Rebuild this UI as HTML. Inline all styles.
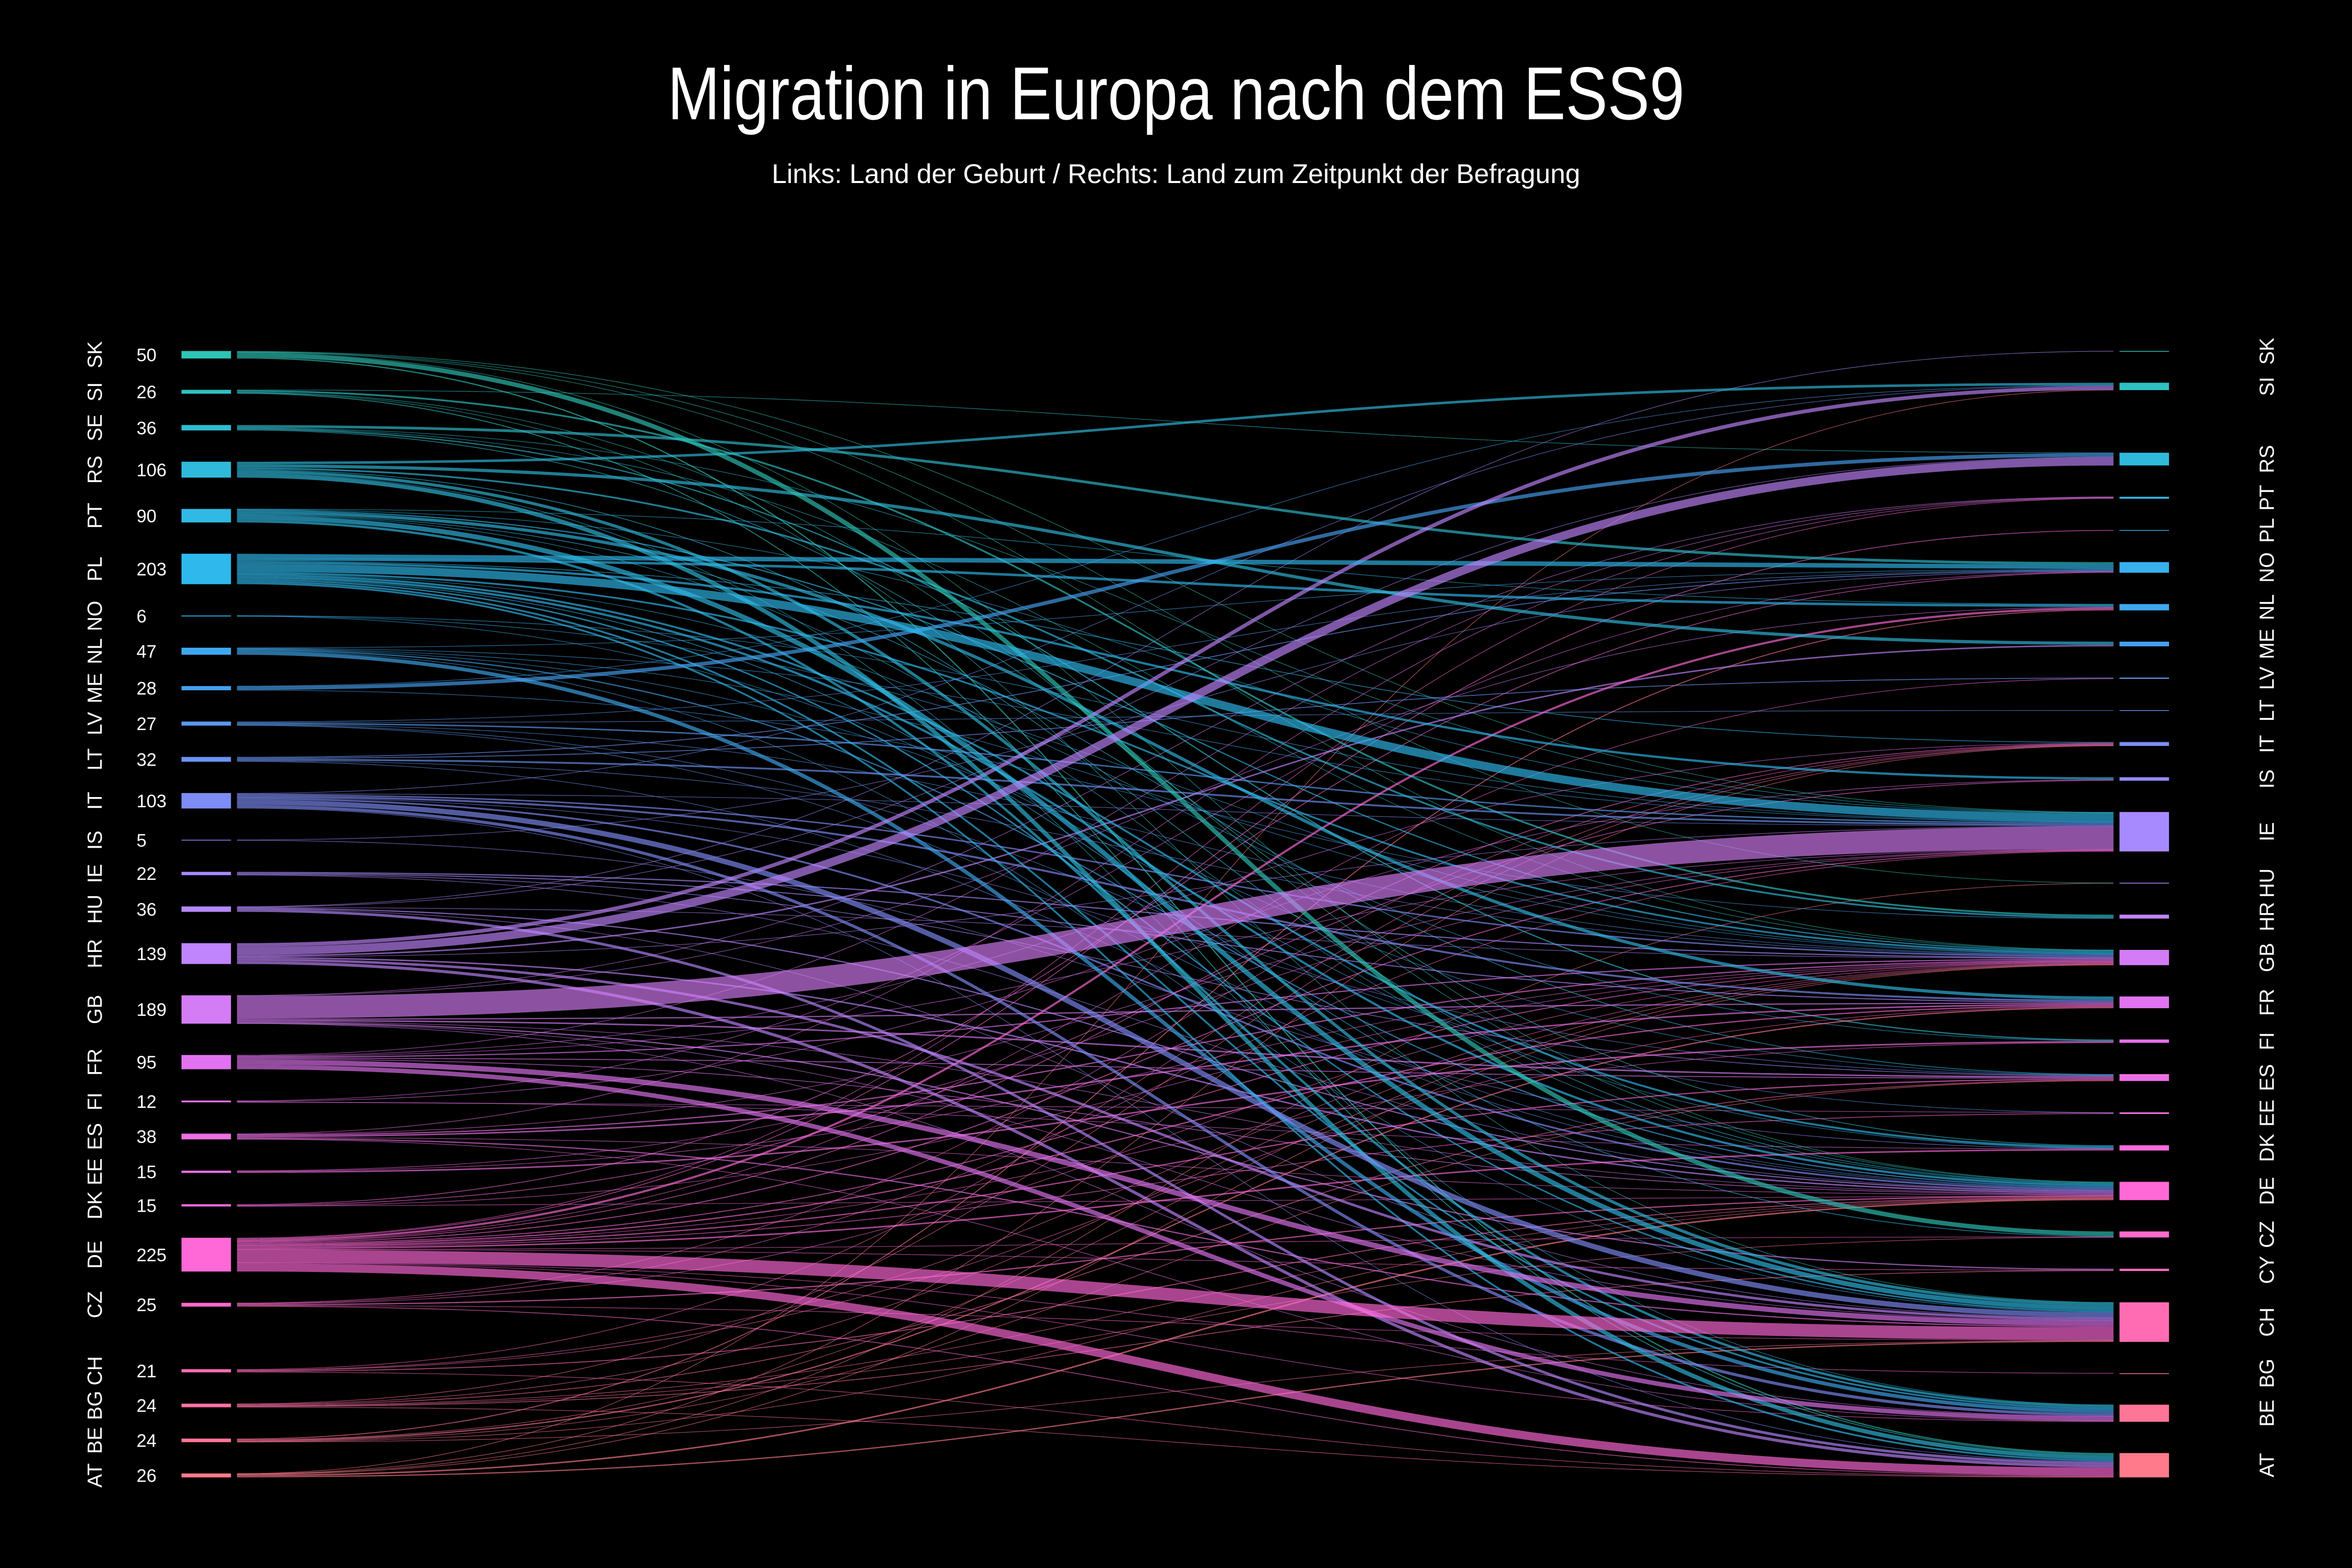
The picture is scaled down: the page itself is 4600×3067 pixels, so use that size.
<!DOCTYPE html>
<html><head><meta charset="utf-8"><style>
html,body{margin:0;padding:0;background:#000;}
svg{display:block;}
text{font-family:"Liberation Sans",sans-serif;fill:#fff;}
</style></head><body>
<svg id="chart" width="4600" height="3067" viewBox="0 0 1568 1045.4" xmlns="http://www.w3.org/2000/svg">
<rect x="0" y="0" width="1568" height="1046" fill="#000"/>
<text x="784" y="79.5" text-anchor="middle" font-size="50" textLength="678" lengthAdjust="spacingAndGlyphs" font-weight="300">Migration in Europa nach dem ESS9</text>
<text x="784" y="122" text-anchor="middle" font-size="18" textLength="539" lengthAdjust="spacingAndGlyphs">Links: Land der Geburt / Rechts: Land zum Zeitpunkt der Befragung</text>
<g id="flows"></g>
<g id="nodes"></g>
</svg>
<script>
const countries = ["SK","SI","SE","RS","PT","PL","NO","NL","ME","LV","LT","IT","IS","IE","HU","HR","GB","FR","FI","ES","EE","DK","DE","CZ","CY","CH","BG","BE","AT"];
const flowSource = [
"SK","SK","SK","SK","SK","SK",
"SI","SI","SI","SI","SI",
"SE","SE","SE","SE","SE",
"RS","RS","RS","RS","RS","RS","RS",
"PT","PT","PT","PT","PT","PT","PT","PT",
"PL","PL","PL","PL","PL","PL","PL","PL","PL","PL","PL","PL","PL",
"NO","NO","NO",
"NL","NL","NL","NL","NL","NL","NL",
"ME","ME","ME",
"LV","LV","LV","LV","LV","LV",
"LT","LT","LT","LT","LT",
"IT","IT","IT","IT","IT","IT","IT","IT","IT",
"IS","IS",
"IE","IE","IE","IE",
"HU","HU","HU","HU","HU","HU",
"HR","HR","HR","HR","HR","HR","HR",
"GB","GB","GB","GB","GB","GB","GB","GB","GB",
"FR","FR","FR","FR","FR","FR","FR","FR",
"FI","FI","FI","FI",
"ES","ES","ES","ES","ES","ES","ES",
"EE","EE","EE",
"DK","DK","DK","DK",
"DE","DE","DE","DE","DE","DE","DE","DE","DE","DE","DE","DE","DE","DE","DE","DE","DE","DE",
"CZ","CZ","CZ","CZ","CZ","CZ",
"CH","CH","CH","CH","CH",
"BG","BG","BG","BG","BG","BG","BG",
"BE","BE","BE","BE","BE","BE",
"AT","AT","AT","AT","AT","AT"];
const flowTarget = [
"CZ","AT","IE","DE","HU","GB",
"HR","AT","DE","CH","RS",
"NO","FI","DK","GB","IE",
"AT","CH","SI","ME","HR","DE","BE",
"CH","FR","GB","BE","IE","ES","NL","DE",
"IE","NO","DE","GB","NL","AT","BE","CH","IS","DK","FI","CZ","IT",
"DK","GB","IE",
"BE","DE","GB","IE","CH","ES","NO",
"RS","HR","SI",
"IE","LT","EE","GB","NO","DE",
"IE","NO","LV","GB","DE",
"CH","BE","DE","GB","FR","SI","AT","IE","ES",
"NO","DK",
"GB","ES","DE","FR",
"AT","DE","SK","RS","CH","GB",
"RS","SI","AT","DE","CH","ME","IE",
"IE","ES","FR","CY","DE","NL","BE","CH","PT",
"BE","CH","GB","ES","DE","IE","PT","IT",
"NO","EE","DK","IS",
"FR","GB","CH","DE","IE","PT","BE",
"FI","IE","GB",
"NO","IS","GB","DE",
"CH","AT","NL","DK","GB","IE","ES","FR","IT","CZ","BE","PT","CY","FI","EE","PL","LV","BG",
"DE","AT","GB","CH","IE","IT",
"DE","AT","IT","FR","GB",
"CY","ES","DE","GB","IT","AT","CZ",
"FR","NL","GB","ES","DE","CH",
"DE","CH","GB","IT","HU","SI"];
const flowValue = [
30,8,4,3,3,2,
12,6,4,2,2,
18,8,5,3,2,
28,20,17,21,12,5,3,
32,21,8,16,3,5,2,3,
55,30,15,12,17,12,12,10,15,13,2,5,5,
2,2,2,
25,8,4,3,3,2,2,
25,2,1,
10,4,3,3,4,3,
12,6,6,4,4,
35,20,12,10,13,4,4,3,2,
2,3,
8,5,2,7,
18,8,3,3,2,2,
55,25,20,10,17,10,2,
150,10,8,8,4,3,2,2,2,
30,35,8,6,5,3,4,4,
4,3,2,3,
10,8,8,4,3,3,2,
10,2,3,
5,5,3,2,
85,55,14,10,6,6,8,8,5,3,4,4,2,2,5,5,2,1,
8,5,3,3,3,3,
6,4,4,3,4,
5,5,4,3,3,2,2,
8,6,3,3,2,2,
10,8,3,2,1,2];

const palette = [[46,196,182],[47,186,220],[47,184,236],[70,160,240],[126,140,245],[168,138,255],[192,132,252],[212,124,245],[225,115,240],[255,105,215],[255,108,180],[255,122,138]];
const paletteStops = [0,3,5,8,11,13,15,16,17,22,25,28];
function nodeColor(i){
  for(let s=0;s<paletteStops.length-1;s++){
    if(i<=paletteStops[s+1]){
      const t=(i-paletteStops[s])/(paletteStops[s+1]-paletteStops[s]);
      const a=palette[s],b=palette[s+1];
      return 'rgb('+a.map((v,j)=>Math.round(v+(b[j]-v)*t)).join(',')+')';
    }
  }
  return 'rgb(255,122,138)';
}
const NS='http://www.w3.org/2000/svg';
const kScale=0.1, topY=234, bottomY=985;
const nCount=countries.length;
const idx={}; countries.forEach((c,i)=>idx[c]=i);
const leftVal=new Array(nCount).fill(0), rightVal=new Array(nCount).fill(0);
flowValue.forEach((v,i)=>{leftVal[idx[flowSource[i]]]+=v; rightVal[idx[flowTarget[i]]]+=v;});
function layout(vals){
  const tot=vals.reduce((a,b)=>a+b,0);
  const pad=(bottomY-topY-tot*kScale)/(nCount-1);
  const ys=[]; let y=topY;
  vals.forEach(v=>{ys.push(y); y+=v*kScale+pad;});
  return ys;
}
const leftY=layout(leftVal), rightY=layout(rightVal);
const flowsG=document.getElementById('flows'), nodesG=document.getElementById('nodes');
const order=flowValue.map((v,i)=>i);
const srcOff=leftY.slice(), tgtOff=rightY.slice();
const y0s=[], y1s=[];
order.slice().sort((a,b)=>idx[flowSource[a]]-idx[flowSource[b]]||idx[flowTarget[a]]-idx[flowTarget[b]]).forEach(i=>{
  const s=idx[flowSource[i]]; y0s[i]=srcOff[s]+flowValue[i]*kScale/2; srcOff[s]+=flowValue[i]*kScale;});
order.slice().sort((a,b)=>idx[flowTarget[a]]-idx[flowTarget[b]]||idx[flowSource[a]]-idx[flowSource[b]]).forEach(i=>{
  const t=idx[flowTarget[i]]; y1s[i]=tgtOff[t]+flowValue[i]*kScale/2; tgtOff[t]+=flowValue[i]*kScale;});
const x0=158, x1=1409, xm=(x0+x1)/2;
order.slice().sort((a,b)=>flowValue[a]-flowValue[b]).forEach(i=>{
  const p=document.createElementNS(NS,'path');
  p.setAttribute('d','M'+x0+','+y0s[i]+' C'+xm+','+y0s[i]+' '+xm+','+y1s[i]+' '+x1+','+y1s[i]);
  p.setAttribute('fill','none');
  p.setAttribute('stroke',nodeColor(idx[flowSource[i]]));
  p.setAttribute('stroke-opacity','0.66');
  p.setAttribute('stroke-width',Math.max(flowValue[i]*kScale,0.4));
  
  
  flowsG.appendChild(p);
});
countries.forEach((c,i)=>{
  const col=nodeColor(i);
  if(leftVal[i]>0){
    const r=document.createElementNS(NS,'rect');
    r.setAttribute('x',121); r.setAttribute('y',leftY[i]); r.setAttribute('width',33); r.setAttribute('height',Math.max(leftVal[i]*kScale,0.5)); r.setAttribute('fill',col);
    
    
    nodesG.appendChild(r);
    const cy=leftY[i]+leftVal[i]*kScale/2;
    const t=document.createElementNS(NS,'text');
    t.setAttribute('transform','translate(63,'+cy+') rotate(-90)');
    t.setAttribute('text-anchor','middle'); t.setAttribute('dy','0.36em'); t.setAttribute('font-size','13.5');
    t.textContent=c;
    
    
    nodesG.appendChild(t);
    const v=document.createElementNS(NS,'text');
    v.setAttribute('x',91); v.setAttribute('y',cy); v.setAttribute('dy','0.36em'); v.setAttribute('font-size','12');
    v.textContent=leftVal[i];
    
    
    nodesG.appendChild(v);
  }
  if(rightVal[i]>0){
    const r=document.createElementNS(NS,'rect');
    r.setAttribute('x',1413); r.setAttribute('y',rightY[i]); r.setAttribute('width',33); r.setAttribute('height',Math.max(rightVal[i]*kScale,0.5)); r.setAttribute('fill',col);
    
    
    nodesG.appendChild(r);
    const cy=rightY[i]+rightVal[i]*kScale/2;
    const t=document.createElementNS(NS,'text');
    t.setAttribute('transform','translate(1511,'+cy+') rotate(-90)');
    t.setAttribute('text-anchor','middle'); t.setAttribute('dy','0.36em'); t.setAttribute('font-size','13.5');
    t.textContent=c;
    
    
    nodesG.appendChild(t);
  }
});
</script>
</body></html>
